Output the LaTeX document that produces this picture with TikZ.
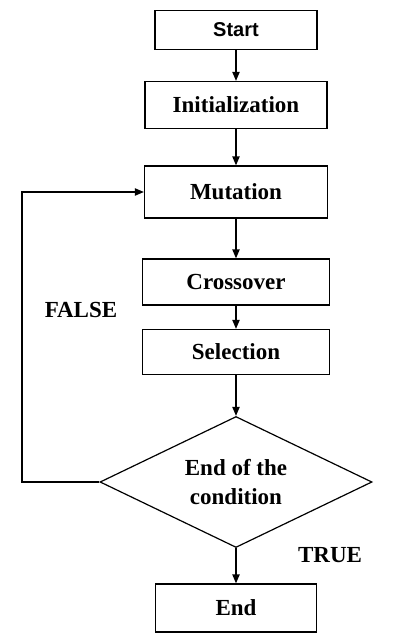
\documentclass[tikz,border=0pt]{standalone}
\usepackage{fontspec}
\setmainfont{Liberation Serif}
\newfontfamily\boxsans{Liberation Sans}
\usepackage{tikz}
\usetikzlibrary{arrows.meta,shapes.geometric}
\tikzset{
	>={Triangle[length=4.5pt,width=3.6pt]},
	flow/.style={black, line width=0.75pt, ->},
	stepbox/.style={draw=black, line width=0.6pt, fill=white, inner sep=0pt,
		font=\fontsize{11.5}{14.5}\selectfont\bfseries},
	decision/.style={diamond, draw=black, line width=0.6pt, inner sep=0pt, aspect=2.08,
		minimum width=136pt, minimum height=65.5pt, align=center,
		font=\fontsize{11.5}{14.5}\selectfont\bfseries},
	branch/.style={black, font=\fontsize{11.5}{14.5}\selectfont\bfseries}
}

\begin{document}
\begin{tikzpicture}[x=0.5pt, y=-0.5pt]
		\useasboundingbox (0,0) rectangle (395,640);
		
		% boxes of the loop
		\node[stepbox, minimum width=81pt, minimum height=19.5pt, font=\fontsize{10}{12}\selectfont\boxsans\bfseries] (start) at (236,30) {Start};
		\node[stepbox, minimum width=91pt, minimum height=23.5pt] (init) at (236,105) {Initialization};
		\node[stepbox, minimum width=91.5pt, minimum height=26pt] (mut) at (236,192) {Mutation};
		\node[stepbox, minimum width=93.5pt, minimum height=23pt] (cross) at (236,282) {Crossover};
		\node[stepbox, minimum width=93.5pt, minimum height=22.5pt] (sel) at (236,352) {Selection};
		\node[decision] (cond) at (236,482) {End of the\\condition};
		\node[stepbox, minimum width=80.5pt, minimum height=24pt] (stop) at (236,608) {End};
		
		% arrows down
		\draw[flow] (start) -- (init);
		\draw[flow] (init) -- (mut);
		\draw[flow] (mut) -- (cross);
		\draw[flow] (cross) -- (sel);
		\draw[flow] (sel) -- (cond);
		\draw[flow] (cond) -- (stop);
		
		% back to mutation
		\coordinate (back) at (22,482);
		\draw[flow] (cond.west) -- (back) |- (mut.west);
		
		\node[branch] (no) at (81,310) {FALSE};
		\node[branch] (yes) at (330,555) {TRUE};
	\end{tikzpicture}
\end{document}
